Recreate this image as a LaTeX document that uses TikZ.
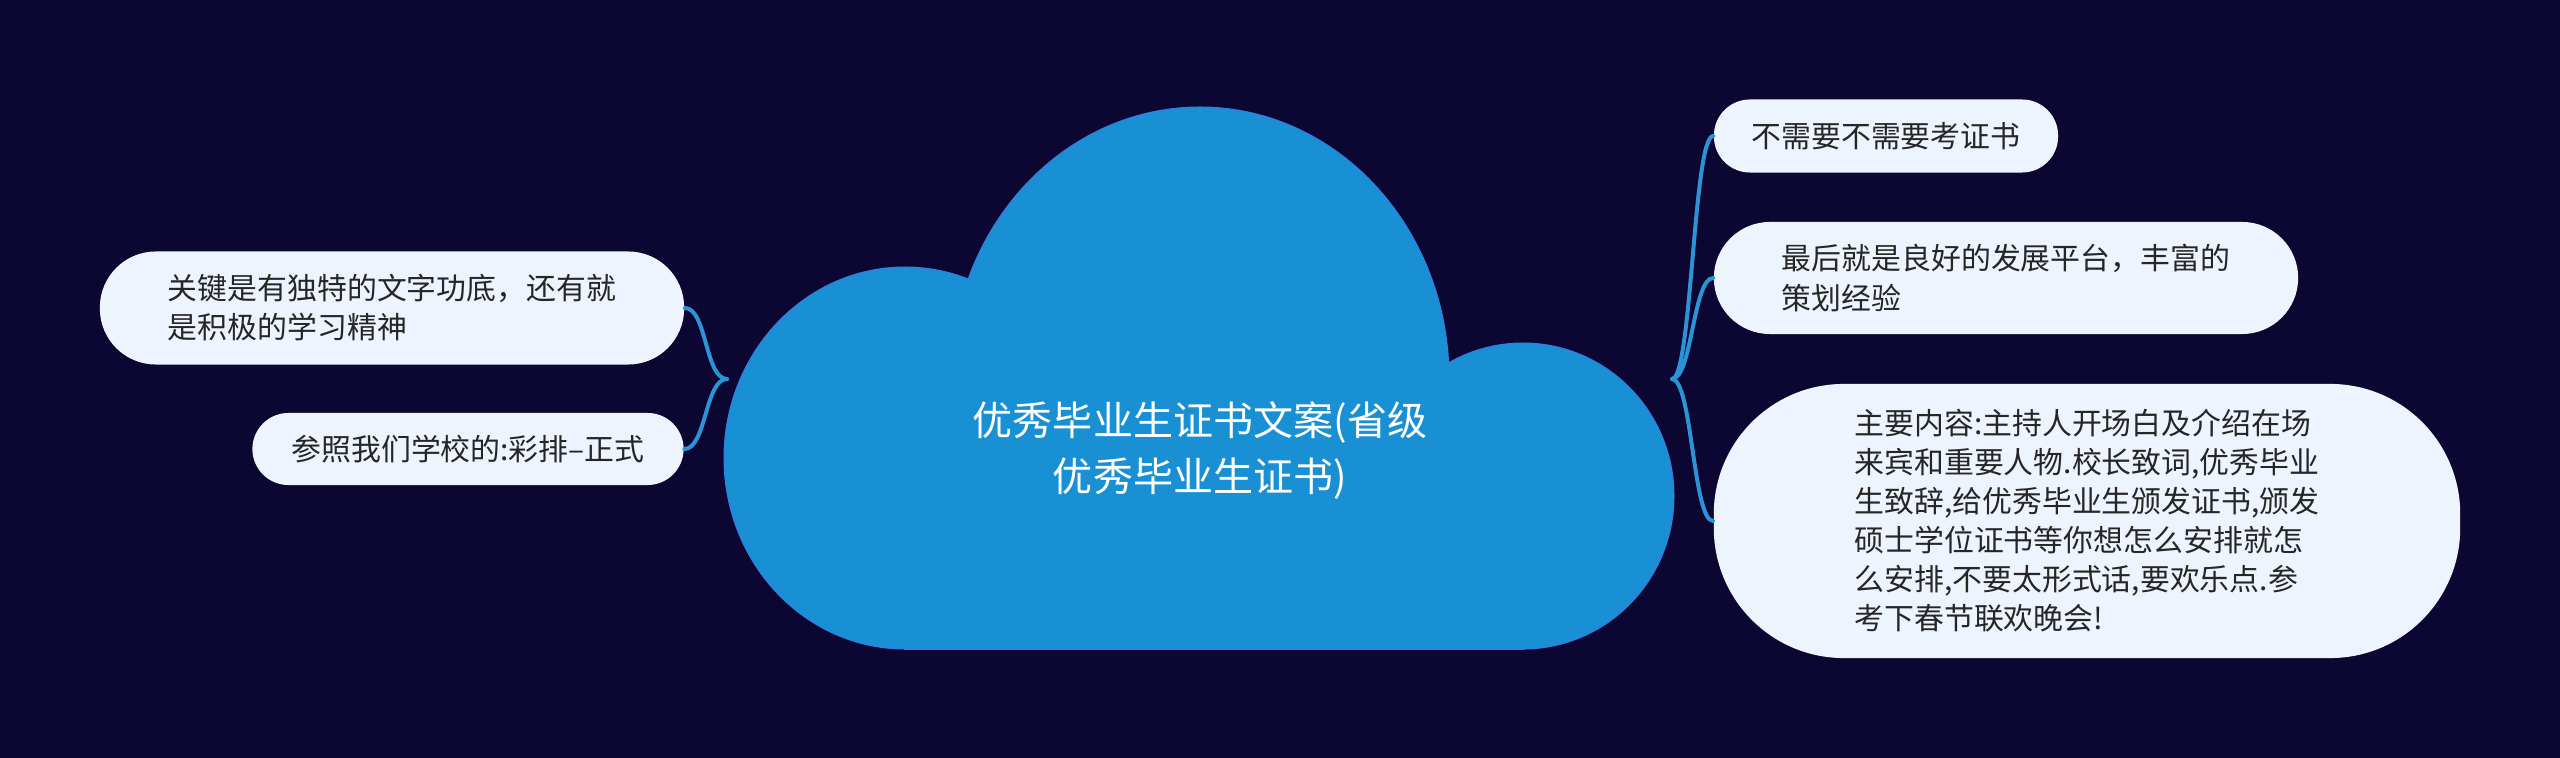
\documentclass[tikz,border=0pt]{standalone}
\usepackage{fontspec}
\usepackage{xcolor}
\usepackage{tikz}
\usetikzlibrary{calc}
\newfontfamily\cjk{Noto Sans CJK SC}
\definecolor{bgnavy}{HTML}{0B0632}
\definecolor{cloudblue}{HTML}{1A90D4}
\definecolor{cloudedge}{HTML}{2F80E0}
\definecolor{branchblue}{HTML}{2A94D6}
\definecolor{leafbg}{HTML}{EEF4FE}
\definecolor{leaftext}{HTML}{262626}
\tikzset{
  leaf/.style={fill=leafbg, text=leaftext, font=\cjk\fontsize{8.5pt}{11.1pt}\selectfont, align=left, inner sep=0pt},
  branch/.style={draw=branchblue, line width=0.04cm, line cap=round}
}

\begin{document}
\begin{tikzpicture}[x=0.01cm, y=-0.01cm]
        %LATAR
        \fill[bgnavy] (0,0) rectangle (2560,758);
        \useasboundingbox (0,0) rectangle (2560,758);
        %AWAN
        \draw[cloudedge, line width=0.03cm] (905,458) ellipse [x radius=180, y radius=190];
        \draw[cloudedge, line width=0.03cm] (1200,378) ellipse [x radius=248, y radius=270];
        \draw[cloudedge, line width=0.03cm] (1523,496) ellipse [x radius=150, y radius=152];
        \draw[cloudedge, line width=0.03cm] (905,458) rectangle (1523,648);
        \fill[cloudblue] (905,458) ellipse [x radius=180, y radius=190];
        \fill[cloudblue] (1200,378) ellipse [x radius=248, y radius=270];
        \fill[cloudblue] (1523,496) ellipse [x radius=150, y radius=152];
        \fill[cloudblue] (905,458) rectangle (1523,648);
        \node[text=white, align=center, font=\cjk\fontsize{11.4pt}{15.9pt}\selectfont] (root) at (1200,450) {优秀毕业生证书文案(省级\\优秀毕业生证书)};
        %CABANG KIRI
        \node[leaf, minimum width=5.84cm, minimum height=1.13cm, rounded corners=0.56cm] (keyskill) at (392,308) {关键是有独特的文字功底，还有就\\是积极的学习精神};
        \node[leaf, minimum width=4.31cm, minimum height=0.72cm, rounded corners=0.36cm] (rehearsal) at (468,449) {参照我们学校的:彩排–正式};
        %CABANG KANAN
        \node[leaf, minimum width=3.44cm, minimum height=0.73cm, rounded corners=0.36cm] (noexam) at (1886,136) {不需要不需要考证书};
        \node[leaf, minimum width=5.84cm, minimum height=1.12cm, rounded corners=0.56cm] (platform) at (2006,278) {最后就是良好的发展平台，丰富的\\策划经验};
        \node[leaf, minimum width=7.46cm, minimum height=2.74cm, rounded corners=1.3cm] (content) at (2087,521) {主要内容:主持人开场白及介绍在场\\来宾和重要人物.校长致词,优秀毕业\\生致辞,给优秀毕业生颁发证书,颁发\\硕士学位证书等你想怎么安排就怎\\么安排,不要太形式话,要欢乐点.参\\考下春节联欢晚会!};
        %GARIS HUBUNG
        \coordinate (lj) at (727,379);
        \coordinate (rj) at (1672,379);
        \draw[branch] (lj) .. controls +(-22,0) and +(22,0) .. (keyskill.east);
        \draw[branch] (lj) .. controls +(-22,0) and +(22,0) .. (rehearsal.east);
        \draw[branch] (rj) .. controls +(20,0) and +(-20,0) .. (noexam.west);
        \draw[branch] (rj) .. controls +(20,0) and +(-20,0) .. (platform.west);
        \draw[branch] (rj) .. controls +(20,0) and +(-20,0) .. (content.west);
    \end{tikzpicture}
\end{document}
